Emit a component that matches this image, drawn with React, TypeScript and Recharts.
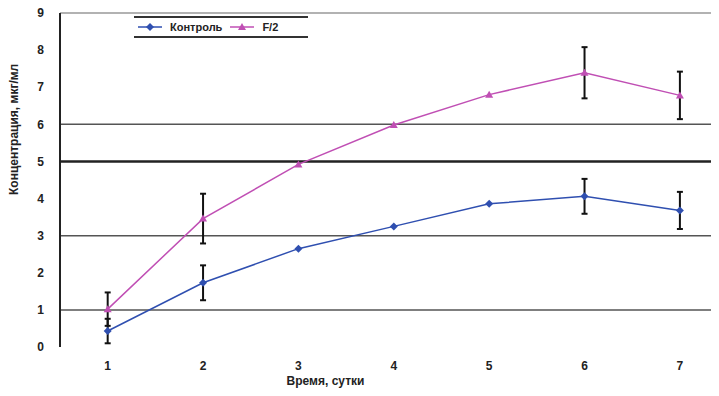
import {
  LineChart,
  Line,
  XAxis,
  YAxis,
  ErrorBar,
  ReferenceLine,
} from "recharts";

const days = [1, 2, 3, 4, 5, 6, 7];
const control = [0.43, 1.73, 2.65, 3.25, 3.86, 4.06, 3.68];
const controlErr = [0.33, 0.47, 0, 0, 0, 0.47, 0.5];
const f2 = [1.02, 3.46, 4.92, 5.98, 6.8, 7.39, 6.78];
const f2Err = [0.45, 0.67, 0, 0, 0, 0.69, 0.64];
const yTicks = [0, 1, 2, 3, 4, 5, 6, 7, 8, 9];
const gridValues = [1, 3, 5, 6, 9];

const data = days.map((d, i) => ({
  day: d,
  control: control[i],
  controlErr: controlErr[i],
  f2: f2[i],
  f2Err: f2Err[i],
}));

const BLUE = "#2f4fb0";
const PINK = "#c04fb4";
const FONT = "'Liberation Sans', Arial, sans-serif";

interface DotProps {
  cx?: number;
  cy?: number;
}

const Diamond = ({ cx = 0, cy = 0 }: DotProps) => (
  <path
    d={`M${cx},${cy - 4} L${cx + 4},${cy} L${cx},${cy + 4} L${cx - 4},${cy} Z`}
    fill={BLUE}
  />
);

const Triangle = ({ cx = 0, cy = 0 }: DotProps) => (
  <path
    d={`M${cx},${cy - 4} L${cx + 4},${cy + 3} L${cx - 4},${cy + 3} Z`}
    fill={PINK}
  />
);

const LegendBox = () => (
  <div
    style={{
      position: "absolute",
      top: 16,
      left: 134,
      width: 170,
      height: 18,
      borderTop: "2px solid #333",
      borderBottom: "2px solid #333",
      display: "flex",
      alignItems: "center",
      gap: 8,
      paddingLeft: 4,
      fontFamily: FONT,
      fontSize: 11,
      fontWeight: "bold",
      color: "#222",
    }}
  >
    <svg width={24} height={10}>
      <line x1={0} y1={5} x2={24} y2={5} stroke={BLUE} strokeWidth={1.5} />
      <path d="M12,1 L16,5 L12,9 L8,5 Z" fill={BLUE} />
    </svg>
    <span>Контроль</span>
    <svg width={24} height={10}>
      <line x1={0} y1={5} x2={24} y2={5} stroke={PINK} strokeWidth={1.5} />
      <path d="M12,1 L16,8 L8,8 Z" fill={PINK} />
    </svg>
    <span>F/2</span>
  </div>
);

export default function App() {
  return (
    <div
      style={{ margin: -8, background: "#fff", width: 719, height: 396, position: "relative" }}
    >
      <LineChart
        width={719}
        height={396}
        data={data}
        margin={{ top: 13, right: 0, bottom: 0, left: 0 }}
      >
        <XAxis
          dataKey="day"
          type="number"
          domain={[0.5, 7.41]}
          ticks={days}
          axisLine={false}
          tickLine={false}
          height={49}
          tick={{ fill: "#222", fontSize: 12, fontWeight: "bold", fontFamily: FONT }}
          dy={6}
          label={{
            value: "Время, сутки",
            position: "insideBottom",
            offset: 11,
            dx: -64,
            fill: "#222",
            fontSize: 12,
            fontWeight: "bold",
            fontFamily: FONT,
          }}
        />
        <YAxis
          domain={[0, 9]}
          ticks={yTicks}
          width={60}
          axisLine={{ stroke: "#222", strokeWidth: 2 }}
          tickLine={false}
          tick={{ fill: "#222", fontSize: 12, fontWeight: "bold", fontFamily: FONT }}
          dx={-8}
          label={{
            value: "Концентрация, мкг/мл",
            angle: -90,
            position: "insideLeft",
            offset: 14,
            dy: 15,
            fill: "#222",
            fontSize: 12,
            fontWeight: "bold",
            fontFamily: FONT,
          }}
        />
        {gridValues.map((v) => (
          <ReferenceLine
            key={v}
            y={v}
            stroke={v === 5 ? "#222" : v === 9 ? "#999" : "#555"}
            strokeWidth={v === 5 ? 2.5 : 1.5}
          />
        ))}
        <Line
          dataKey="control"
          stroke={BLUE}
          strokeWidth={1.5}
          dot={<Diamond />}
          activeDot={false}
          isAnimationActive={false}
        >
          <ErrorBar dataKey="controlErr" width={3} strokeWidth={2} stroke="#111" direction="y" />
        </Line>
        <Line
          dataKey="f2"
          stroke={PINK}
          strokeWidth={1.5}
          dot={<Triangle />}
          activeDot={false}
          isAnimationActive={false}
        >
          <ErrorBar dataKey="f2Err" width={3} strokeWidth={2} stroke="#111" direction="y" />
        </Line>
      </LineChart>
      <LegendBox />
    </div>
  );
}
